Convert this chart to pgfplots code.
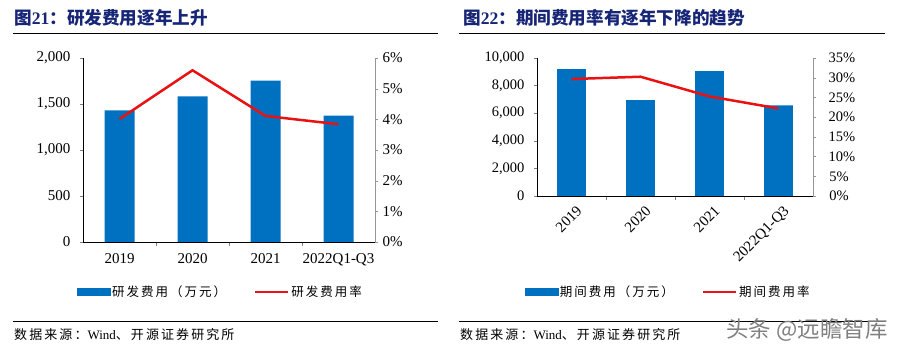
\documentclass[border=0pt]{standalone}
\usepackage{fontspec}
\usepackage{pgfplots}
\pgfplotsset{compat=1.18}
\setmainfont{Liberation Serif}
\newfontfamily\cjk{Noto Sans CJK SC}
\newfontfamily\cjks{Noto Sans CJK SC}[LetterSpace=16]
\newfontfamily\cjkl{Noto Sans CJK SC}[LetterSpace=16]
\definecolor{barblue}{RGB}{0,112,192}
\definecolor{linered}{RGB}{232,18,18}
\definecolor{titleblue}{RGB}{23,37,119}
\definecolor{axgray}{RGB}{150,150,150}
\pgfplotsset{
  common/.style={
    scale only axis, anchor=south west,
    xmin=-0.5, xmax=3.5,
    tick align=outside,
    major tick length=3pt,
    axis line style={-},
    /pgf/number format/assume math mode=true,
    /pgf/number format/1000 sep={,},
    clip=false,
  },
  barlegend/.style={legend image code/.code={\fill[barblue] (0pt,-3.5pt) rectangle (33pt,3.5pt);}},
  linelegend/.style={legend image code/.code={\draw[linered, line width=2.2pt] (0pt,0pt) -- (33pt,0pt);}},
}
\begin{document}
\begin{tikzpicture}
\path[use as bounding box] (0pt,0pt) rectangle (900pt,352pt);
% ---------- titles and rules ----------
\node[anchor=west, inner sep=0pt, text=titleblue, font=\fontsize{17.6}{19}\selectfont\bfseries] at (14pt,334pt) {{\cjk 图}21{\cjk ：研发费用逐年上升}};
\node[anchor=west, inner sep=0pt, text=titleblue, font=\fontsize{17.6}{19}\selectfont\bfseries] at (463pt,334pt) {{\cjk 图}22{\cjk ：期间费用率有逐年下降的趋势}};
\draw[line width=1.1pt] (13pt,318.5pt) -- (438pt,318.5pt);
\draw[line width=1.1pt] (459pt,318.5pt) -- (885pt,318.5pt);
\draw[line width=0.9pt] (13pt,31pt) -- (438pt,31pt);
\draw[line width=0.9pt] (459pt,31pt) -- (885pt,31pt);
\node[anchor=west, inner sep=0pt, font=\fontsize{13}{15}\selectfont] at (14pt,17pt) {{\cjks 数据来源：}Wind{\cjks 、开源证券研究所}};
\node[anchor=west, inner sep=0pt, font=\fontsize{13}{15}\selectfont] at (460pt,17pt) {{\cjks 数据来源：}Wind{\cjks 、开源证券研究所}};
\node[anchor=east, inner sep=0pt, text=gray, font=\fontsize{22.5}{25}\selectfont\cjk] at (888pt,22pt) {头条 @远瞻智库};
% ---------- left chart ----------
\begin{axis}[common,
  at={(83pt,110pt)}, width=292pt, height=184pt,
  ymin=0, ymax=2000,
  axis y line*=left, axis x line*=bottom,
  xtick={0,1,2,3}, xticklabels={2019,2020,2021,2022Q1-Q3},
  major x tick style={draw=none},
  minor xtick={0.5,1.5,2.5}, minor tick length=4pt,
  ytick={0,500,...,2000},
  tick label style={font=\fontsize{15}{17}\selectfont},
  yticklabel style={xshift=-6pt},
  xticklabel style={yshift=-5pt},
]
\addplot[ybar, bar width=30pt, fill=barblue, draw=none] coordinates {(0,1431) (1,1583) (2,1754) (3,1373)};
\end{axis}
\begin{axis}[common,
  at={(83pt,110pt)}, width=292pt, height=184pt,
  ymin=0, ymax=6,
  axis x line=none, axis y line*=right,
  y axis line style={axgray},
  ytick={0,1,...,6}, ytick style={axgray},
  yticklabel={\pgfmathprintnumber{\tick}\%},
  tick label style={font=\fontsize{15}{17}\selectfont},
  yticklabel style={xshift=1pt},
  legend style={at={(0.47,-0.272)}, anchor=center, draw=none, fill=none,
    legend columns=2, font=\fontsize{12.5}{15}\selectfont,
    /tikz/every even column/.append style={column sep=26pt}},
]
\addlegendimage{barlegend}
\addlegendentry{\cjkl 研发费用（万元）}
\addplot[linered, line width=2.5pt, mark=none, linelegend] coordinates {(0,4.01) (1,5.60) (2,4.11) (3,3.84)};
\addlegendentry{\cjkl 研发费用率}
\end{axis}
% ---------- right chart ----------
\begin{axis}[common,
  at={(537pt,156pt)}, width=276pt, height=138pt,
  ymin=0, ymax=10000,
  axis y line*=left, axis x line*=bottom,
  xtick={0,1,2,3}, xticklabels={2019,2020,2021,2022Q1-Q3},
  major x tick style={draw=none},
  minor xtick={0.5,1.5,2.5}, minor tick length=4pt,
  ytick={0,2000,...,10000},
  scaled y ticks=false,
  tick label style={font=\fontsize{14.5}{16}\selectfont},
  yticklabel style={xshift=-6pt},
  xticklabel style={rotate=45, anchor=north east, inner sep=1pt, yshift=-6pt, font=\fontsize{15}{17}\selectfont},
]
\addplot[ybar, bar width=28.7pt, fill=barblue, draw=none] coordinates {(0,9201) (1,6949) (2,9056) (3,6562)};
\end{axis}
\begin{axis}[common,
  at={(537pt,156pt)}, width=276pt, height=138pt,
  ymin=0, ymax=35,
  axis x line=none, axis y line*=right,
  y axis line style={axgray},
  ytick={0,5,...,35}, ytick style={axgray},
  yticklabel={\pgfmathprintnumber{\tick}\%},
  tick label style={font=\fontsize{14.5}{16}\selectfont},
  yticklabel style={text width=2.1em, align=center, xshift=9pt},
  legend style={at={(0.475,-0.696)}, anchor=center, draw=none, fill=none,
    legend columns=2, font=\fontsize{12.5}{15}\selectfont,
    /tikz/every even column/.append style={column sep=26pt}},
]
\addlegendimage{barlegend}
\addlegendentry{\cjkl 期间费用（万元）}
\addplot[linered, line width=2.5pt, mark=none, linelegend] coordinates {(0,29.66) (1,30.25) (2,25.25) (3,22.2)};
\addlegendentry{\cjkl 期间费用率}
\end{axis}
\end{tikzpicture}
\end{document}
